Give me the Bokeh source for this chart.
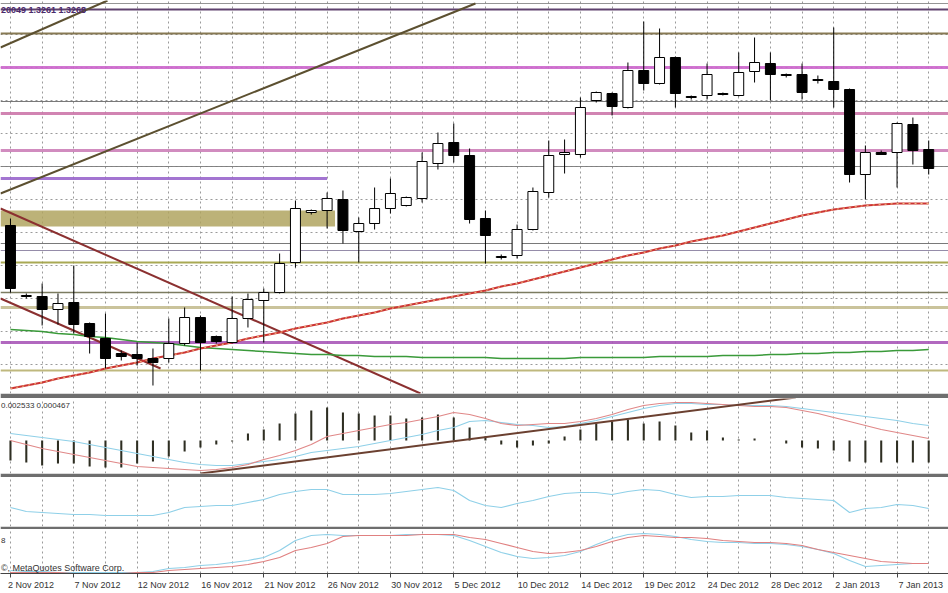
from bokeh.plotting import figure
from bokeh.layouts import column
from bokeh.models import Range1d, FixedTicker, Label, Span, Grid
from bokeh.embed import file_html
from bokeh.resources import INLINE

# ---------------- data ----------------
tick_bars = [0, 4, 8, 12, 16, 20, 24, 28, 32, 36, 40, 44, 48, 52, 56]
tick_labels = ["2 Nov 2012", "7 Nov 2012", "12 Nov 2012", "16 Nov 2012", "21 Nov 2012",
               "26 Nov 2012", "30 Nov 2012", "5 Dec 2012", "10 Dec 2012", "14 Dec 2012",
               "19 Dec 2012", "24 Dec 2012", "28 Dec 2012", "2 Jan 2013", "7 Jan 2013"]

opens = [1.2900, 1.2758, 1.2758, 1.2732, 1.2746, 1.2704, 1.2674, 1.2644, 1.2642, 1.2634,
         1.2634, 1.2664, 1.2716, 1.2678, 1.2666, 1.2714, 1.2750, 1.2766, 1.2826, 1.2926,
         1.2930, 1.2952, 1.2888, 1.2904, 1.2934, 1.2940, 1.2954, 1.3024, 1.3066, 1.3040,
         1.2914, 1.2836, 1.2840, 1.2892, 1.2966, 1.3042, 1.3042, 1.3150, 1.3164, 1.3136,
         1.3210, 1.3184, 1.3236, 1.3158, 1.3160, 1.3162, 1.3160, 1.3208, 1.3224, 1.3202,
         1.3202, 1.3190, 1.3188, 1.3172, 1.3002, 1.3046, 1.3046, 1.3102, 1.3052]
highs = [1.2914, 1.2764, 1.2784, 1.2764, 1.2820, 1.2706, 1.2724, 1.2650, 1.2666, 1.2654,
         1.2714, 1.2736, 1.2720, 1.2680, 1.2758, 1.2764, 1.2774, 1.2844, 1.2950, 1.2932,
         1.2966, 1.2970, 1.2916, 1.2976, 1.2994, 1.2958, 1.3046, 1.3086, 1.3104, 1.3054,
         1.2930, 1.2842, 1.2902, 1.2976, 1.3070, 1.3072, 1.3156, 1.3168, 1.3166, 1.3226,
         1.3308, 1.3294, 1.3238, 1.3160, 1.3224, 1.3166, 1.3246, 1.3276, 1.3246, 1.3204,
         1.3224, 1.3200, 1.3296, 1.3174, 1.3060, 1.3050, 1.3106, 1.3116, 1.3070]
lows = [1.2766, 1.2754, 1.2700, 1.2702, 1.2684, 1.2644, 1.2614, 1.2630, 1.2620, 1.2580,
        1.2626, 1.2660, 1.2610, 1.2664, 1.2664, 1.2696, 1.2666, 1.2764, 1.2816, 1.2922,
        1.2894, 1.2864, 1.2826, 1.2892, 1.2924, 1.2938, 1.2946, 1.3012, 1.3026, 1.2904,
        1.2824, 1.2832, 1.2834, 1.2890, 1.2956, 1.3004, 1.3036, 1.3146, 1.3120, 1.3134,
        1.3170, 1.3182, 1.3136, 1.3152, 1.3152, 1.3160, 1.3158, 1.3186, 1.3150, 1.3196,
        1.3152, 1.3184, 1.3136, 1.2986, 1.2952, 1.3042, 1.2976, 1.3022, 1.3002]
closes = [1.2774, 1.2760, 1.2732, 1.2744, 1.2702, 1.2678, 1.2634, 1.2638, 1.2634, 1.2626,
          1.2664, 1.2716, 1.2666, 1.2668, 1.2714, 1.2752, 1.2766, 1.2824, 1.2934, 1.2930,
          1.2954, 1.2890, 1.2904, 1.2934, 1.2964, 1.2956, 1.3028, 1.3064, 1.3040, 1.2912,
          1.2880, 1.2838, 1.2892, 1.2968, 1.3040, 1.3046, 1.3136, 1.3166, 1.3138, 1.3210,
          1.3184, 1.3236, 1.3164, 1.3156, 1.3202, 1.3164, 1.3206, 1.3226, 1.3202, 1.3200,
          1.3166, 1.3192, 1.3172, 1.3002, 1.3046, 1.3042, 1.3104, 1.3050, 1.3014]

ma_slow = [1.2574, 1.2580, 1.2586, 1.2594, 1.2600, 1.2606, 1.2614, 1.2620, 1.2626, 1.2634,
           1.2640, 1.2646, 1.2654, 1.2660, 1.2666, 1.2674, 1.2680, 1.2686, 1.2694, 1.2700,
           1.2706, 1.2714, 1.2720, 1.2726, 1.2734, 1.2740, 1.2746, 1.2752, 1.2758, 1.2764,
           1.2770, 1.2778, 1.2784, 1.2792, 1.2800, 1.2808, 1.2816, 1.2824, 1.2832, 1.2840,
           1.2846, 1.2854, 1.2860, 1.2868, 1.2874, 1.2880, 1.2888, 1.2896, 1.2904, 1.2912,
           1.2920, 1.2926, 1.2932, 1.2936, 1.2940, 1.2942, 1.2944, 1.2944, 1.2944]
ma_green = [1.2692, 1.2690, 1.2688, 1.2684, 1.2682, 1.2678, 1.2676, 1.2672, 1.2668, 1.2666,
            1.2664, 1.2660, 1.2656, 1.2654, 1.2652, 1.2650, 1.2648, 1.2646, 1.2644, 1.2642,
            1.2642, 1.2640, 1.2640, 1.2638, 1.2638, 1.2638, 1.2636, 1.2636, 1.2636, 1.2636,
            1.2636, 1.2634, 1.2634, 1.2634, 1.2634, 1.2634, 1.2636, 1.2636, 1.2636, 1.2636,
            1.2636, 1.2638, 1.2638, 1.2638, 1.2638, 1.2640, 1.2640, 1.2640, 1.2642, 1.2642,
            1.2644, 1.2644, 1.2646, 1.2646, 1.2648, 1.2648, 1.2650, 1.2650, 1.2652]

# horizontal price levels (price, colour, width)
level_prices = [1.3344, 1.3332, 1.3284, 1.3216, 1.3148, 1.3124, 1.3050, 1.3018,
                1.2864, 1.2850, 1.2826, 1.2766, 1.2736, 1.2666, 1.2610]
level_colors = ["#8a8a8a", "#4e2e5e", "#7a6a40", "#cc66cc", "#6a6a6a", "#cc77aa", "#cc80b8", "#7a7a7a",
                "#6a6a6a", "#8a80a0", "#a0a040", "#6e6e50", "#c4bc90", "#a858b8", "#b8b070"]
level_widths = [1, 2, 2, 3, 1, 3, 3, 1, 1, 1, 2, 1.5, 3, 3, 2]

# partial zones (bar index end, price)
zone_end = 20.5
zone_low, zone_high = 1.2898, 1.2930
purple_end, purple_price = 20.0, 1.2994

# trend lines (bar index, price)
trend_x0 = [-0.63, -0.63, -0.63, -0.63]
trend_y0 = [1.3256, 1.2964, 1.2934, 1.2754]
trend_x1 = [6.13, 29.37, 25.9, 9.48]
trend_y1 = [1.3350, 1.3344, 1.2564, 1.2614]
trend_colors = ["#5c5030", "#5c5030", "#8b3030", "#8b3030"]

macd_hist = [-0.0020, -0.0022, -0.0025, -0.0023, -0.0023, -0.0026, -0.0027, -0.0027, -0.0023, -0.0021,
             -0.0016, -0.0011, -0.0007, -0.0004, -0.0001, 0.0007, 0.0011, 0.0017, 0.0027, 0.0030,
             0.0033, 0.0028, 0.0027, 0.0025, 0.0025, 0.0022, 0.0023, 0.0026, 0.0023, 0.0013,
             0.0004, -0.0004, -0.0007, -0.0005, -0.0003, 0.0004, 0.0011, 0.0017, 0.0019, 0.0021,
             0.0017, 0.0019, 0.0015, 0.0008, 0.0010, 0.0003, 0.0001, 0.0002, 0.0000, -0.0003,
             -0.0007, -0.0008, -0.0010, -0.0021, -0.0022, -0.0022, -0.0022, -0.0022, -0.0022]
macd_blue = [0.0007, 0.0005, 0.0003, 0.0001, -0.0001, -0.0004, -0.0007, -0.0010, -0.0013, -0.0016,
             -0.0019, -0.0022, -0.0024, -0.0025, -0.0025, -0.0023, -0.0021, -0.0019, -0.0016, -0.0012,
             -0.0010, -0.0008, -0.0006, -0.0003, 0.0000, 0.0003, 0.0006, 0.0010, 0.0013, 0.0019,
             0.0020, 0.0018, 0.0016, 0.0015, 0.0013, 0.0014, 0.0017, 0.0020, 0.0024, 0.0028,
             0.0032, 0.0035, 0.0037, 0.0037, 0.0036, 0.0036, 0.0035, 0.0035, 0.0035, 0.0034,
             0.0032, 0.0030, 0.0028, 0.0026, 0.0024, 0.0022, 0.0020, 0.0017, 0.0015]
macd_red = [0.0000, -0.0004, -0.0008, -0.0011, -0.0014, -0.0017, -0.0020, -0.0023, -0.0026, -0.0027,
            -0.0028, -0.0029, -0.0030, -0.0029, -0.0027, -0.0024, -0.0019, -0.0015, -0.0010, -0.0004,
            0.0004, 0.0007, 0.0010, 0.0013, 0.0016, 0.0018, 0.0021, 0.0024, 0.0028, 0.0026,
            0.0022, 0.0017, 0.0015, 0.0016, 0.0017, 0.0017, 0.0019, 0.0022, 0.0026, 0.0031,
            0.0035, 0.0037, 0.0038, 0.0038, 0.0037, 0.0036, 0.0035, 0.0034, 0.0034, 0.0033,
            0.0030, 0.0027, 0.0023, 0.0019, 0.0015, 0.0011, 0.0008, 0.0005, 0.0002]
macd_trend_x = [12.0, 49.6]
macd_trend_y = [-0.0033, 0.0043]

osc3 = [21, 17, 16, 15, 14, 14, 13, 13, 13, 13, 16, 21, 22, 23, 23, 26, 29, 34, 37, 39,
        39, 34, 34, 34, 35, 37, 39, 41, 38, 28, 23, 21, 25, 28, 32, 35, 36, 36, 34, 37,
        39, 38, 34, 31, 32, 32, 33, 33, 33, 31, 30, 29, 28, 16, 20, 21, 24, 23, 20]

stoch_main = [3, 2, 2, 1, 1, 1, 1, 1, 1, 2, 5, 6, 8, 9, 11, 13, 16, 23, 33, 38,
              39, 38, 38, 38, 38, 39, 39, 39, 38, 33, 27, 21, 17, 15, 16, 18, 22, 29, 35, 39,
              40, 39, 37, 34, 32, 31, 31, 30, 30, 29, 27, 24, 20, 13, 7, 8, 9, 10, 10]
stoch_signal = [1, 1, 1, 1, 0, 0, 0, 0, 1, 1, 3, 4, 5, 6, 7, 9, 12, 16, 23, 26,
                30, 37, 38, 38, 38, 38, 39, 39, 39, 36, 34, 30, 26, 22, 20, 21, 23, 27, 32, 36,
                38, 37, 36, 36, 35, 33, 32, 31, 31, 30, 28, 24, 21, 18, 15, 12, 11, 10, 10]

price_grid = [1.3282, 1.3216, 1.3150, 1.3084, 1.3018, 1.2952, 1.2886, 1.2820, 1.2754, 1.2688, 1.2622]

# ---------------- layout ----------------
bars = list(range(len(opens)))
grid_ticks = list(range(0, len(opens), 2))
xr = Range1d(-0.63, 59.25)
SEP = "#6e6e6e"
FONT = "Liberation Sans"
W = 948

# approximate Liberation Sans advance widths (em) used to left-align tick labels
CHAR_EM = {" ": 0.278, "N": 0.722, "D": 0.722, "J": 0.5, "o": 0.556, "v": 0.5, "e": 0.556,
           "c": 0.5, "a": 0.556, "n": 0.556}


def left_aligned(text, first=False):
    if first:
        return "\u00a0" * 3 + text  # first label is pinned to the left edge by Bokeh
    width = sum(CHAR_EM.get(ch, 0.556) for ch in text)
    pad = int(round(width / 0.278)) + 1
    return "\u00a0" * pad + text


def panel(height, yr, bottom, fill=SEP, xaxis=False):
    p = figure(width=W, height=height, x_range=xr, y_range=yr,
               x_axis_type="linear" if xaxis else None, y_axis_type=None,
               output_backend="svg", toolbar_location=None,
               min_border_left=0, min_border_right=0, min_border_top=0,
               min_border_bottom=bottom, border_fill_color=fill,
               background_fill_color="white", outline_line_color=None)
    if xaxis:
        p.xgrid.visible = False
    g = Grid(dimension=0, ticker=FixedTicker(ticks=grid_ticks),
             grid_line_color="#9a9a9a", grid_line_dash="2 3", grid_line_width=1)
    p.add_layout(g)
    return p


# main price panel
p1 = panel(398, Range1d(1.2564, 1.3350), 5)
p1.add_layout(Grid(dimension=1, ticker=FixedTicker(ticks=price_grid),
                   grid_line_color="#9a9a9a", grid_line_dash="2 3", grid_line_width=1))
for lp, lc, lw in zip(level_prices, level_colors, level_widths):
    p1.add_layout(Span(location=lp, dimension="width", line_color=lc,
                       line_width=lw, line_alpha=0.9, level="underlay"))
p1.quad(left=[xr.start], right=[zone_end], bottom=[zone_low], top=[zone_high],
        fill_color="#b0a560", fill_alpha=0.85, line_color=None)
p1.segment(x0=[xr.start], y0=[purple_price], x1=[purple_end], y1=[purple_price],
           line_color="#9966cc", line_width=3, line_alpha=0.9)
p1.segment(x0=trend_x0, y0=trend_y0, x1=trend_x1, y1=trend_y1,
           line_color=trend_colors, line_width=2)
p1.line(bars, ma_green, line_color="#3a9a3a", line_width=1.5)
p1.line(bars, ma_slow, line_color="#cc3333", line_width=2)
p1.line(bars, ma_slow, line_color="#f0c080", line_width=1, line_dash="2 4")

body_top = [max(o, c) for o, c in zip(opens, closes)]
body_bot = [min(o, c) for o, c in zip(opens, closes)]
body_fill = ["white" if c >= o else "black" for o, c in zip(opens, closes)]
p1.segment(x0=bars, y0=lows, x1=bars, y1=highs, line_color="black", line_width=1)
p1.vbar(x=bars, width=0.63, top=body_top, bottom=body_bot,
        fill_color=body_fill, line_color="black", line_width=1)
p1.add_layout(Label(x=-0.6, y=1.3322, text="20049 1.3261 1.3268", text_font=FONT,
                    text_font_size="9px", text_font_style="bold", text_color="#4b2a6b",
                    text_baseline="bottom"))

# MACD panel
p2 = panel(79, Range1d(-0.0033, 0.0042), 4)
p2.vbar(x=bars, width=0.13, top=macd_hist, bottom=0, fill_color="#2e2e22", line_color=None)
p2.line(bars, macd_blue, line_color="#8fd0e8", line_width=1.2)
p2.line(bars, macd_red, line_color="#e08888", line_width=1.2)
p2.line(macd_trend_x, macd_trend_y, line_color="#6b4030", line_width=2)
p2.add_layout(Label(x=-0.6, y=0.0031, text="0.002533 0.000467", text_font=FONT,
                    text_font_size="8px", text_color="#333333", text_baseline="bottom"))

# third panel
p3 = panel(52, Range1d(2, 51), 3)
p3.line(bars, osc3, line_color="#8fd0e8", line_width=1.2)

# stochastic panel with the date axis
p4 = panel(64, Range1d(0, 44), 20, fill="white", xaxis=True)
p4.line(bars, stoch_main, line_color="#8fd0e8", line_width=1.2)
p4.line(bars, stoch_signal, line_color="#e08080", line_width=1.2)
p4.add_layout(Label(x=-0.6, y=0.6, text="\u00a9, MetaQuotes Software Corp.", text_font=FONT,
                    text_font_size="9px", text_color="#333333", text_baseline="bottom"))
p4.add_layout(Label(x=-0.6, y=31, text="8", text_font=FONT,
                    text_font_size="8px", text_color="#333333", text_baseline="bottom"))
ax = p4.xaxis[0]
ax.ticker = FixedTicker(ticks=tick_bars)
ax.major_label_overrides = {b: left_aligned(t, first=(k == 0))
                            for k, (b, t) in enumerate(zip(tick_bars, tick_labels))}
ax.major_label_text_font = FONT
ax.major_label_text_font_size = "9px"
ax.major_label_text_color = "#333333"
ax.major_label_standoff = 2
ax.axis_line_color = "#444444"
ax.major_tick_line_color = "#444444"
ax.major_tick_out = 4
ax.major_tick_in = 0
ax.minor_tick_line_color = None

layout = column(p1, p2, p3, p4, spacing=0)
open("out.html", "w").write(file_html(layout, INLINE))
